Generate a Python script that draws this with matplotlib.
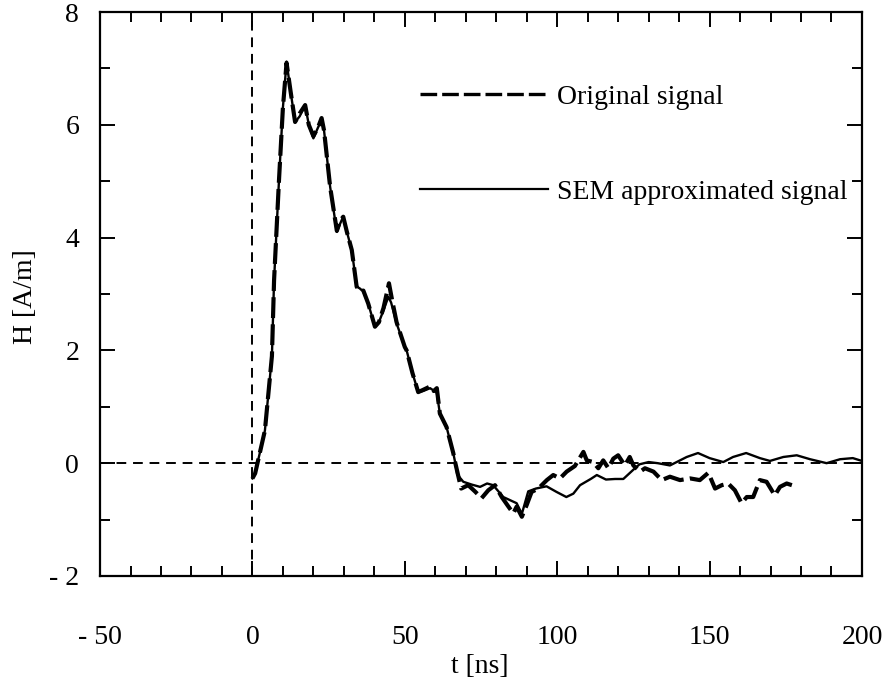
import numpy as np
import matplotlib.pyplot as plt
from matplotlib.ticker import MultipleLocator

plt.rcParams['font.family'] = ['Liberation Serif', 'DejaVu Serif']

# SEM approximated signal, t in ns, H in A/m
t_sem = [0, 0.9, 4.1, 6.4, 7.1, 8.7, 10.0, 11.2, 12.5, 14, 15.5, 17.3, 18.5, 20,
         21.5, 22.7, 23.5, 25.5, 27.7, 28.8, 29.8, 31, 32.6, 34.2, 35.2, 36.4,
         38, 40.2, 41.5, 43, 44.6, 45.5, 47.3, 50, 50.6, 52.5, 54.4, 56, 58.3,
         60.5, 61.5, 63.7, 65.9, 66.5, 67.2, 69.2, 72, 74.7, 77, 79, 82.3, 86.7,
         88.4, 90.5, 93, 96.5, 99.8, 103, 105.3, 107.5, 111, 113, 116, 119,
         121.7, 124.9, 127, 130, 133, 137, 142.5, 146.2, 150, 154.5, 157.7, 162,
         166.5, 169.8, 174.2, 178.6, 183, 188.4, 192.8, 197, 200]
h_sem = [-0.27, -0.18, 0.58, 1.9, 3.24, 5.0, 6.3, 7.12, 6.6, 6.05, 6.15, 6.35,
         6.0, 5.76, 5.95, 6.08, 5.9, 4.9, 4.1, 4.25, 4.37, 4.1, 3.78, 3.13, 3.1,
         3.04, 2.83, 2.42, 2.5, 2.71, 2.95, 2.85, 2.48, 2.06, 2.0, 1.6, 1.26, 1.28,
         1.33, 1.25, 0.88, 0.64, 0.18, 0.02, -0.2, -0.33, -0.38, -0.42, -0.36,
         -0.39, -0.6, -0.71, -0.9, -0.5, -0.45, -0.41, -0.51, -0.6, -0.54, -0.39,
         -0.28, -0.21, -0.29, -0.28, -0.28, -0.12, -0.02, 0.02, 0.0, -0.04, 0.11,
         0.18, 0.09, 0.02, 0.11, 0.18, 0.09, 0.04, 0.11, 0.14, 0.07, 0.0, 0.07,
         0.09, 0.04]

# original measured signal
t_orig = [0, 0.9, 4.1, 6.4, 7.1, 8.7, 10.0, 11.2, 12.5, 14, 15.5, 17.3, 18.5, 20,
          21.5, 22.7, 23.5, 25.5, 27.7, 28.8, 29.8, 31, 32.6, 34.2, 35.2, 36.4,
          38, 40.2, 41.5, 43, 44.8, 45.8, 47.3, 50, 50.6, 52.5, 54.4, 56, 58.3,
          59.5, 60.5, 61.5, 63.7, 65.9, 66.5, 67.6, 68.5, 70.8, 73, 75.2, 77.4,
          79.6, 81.8, 84, 85.6, 86.7, 88.4, 90, 91.6, 93.8, 96.6, 98.7, 100.9,
          103.1, 105.8, 108.6, 109.7, 111.8, 113.5, 115.1, 116.8, 118.4, 120,
          122.2, 123.8, 125, 127.2, 128.8, 131.6, 134.3, 137, 140.3, 143.6, 146.8,
          149.6, 151.8, 154, 156.1, 158.3, 160.5, 162.2, 164.3, 166.5, 168.7,
          171.4, 173.1, 175.3, 177]
h_orig = [-0.27, -0.18, 0.58, 1.9, 3.24, 5.0, 6.3, 7.1, 6.6, 6.05, 6.2, 6.35,
          6.0, 5.8, 5.95, 6.12, 5.9, 4.9, 4.12, 4.3, 4.37, 4.1, 3.78, 3.13, 3.05,
          3.06, 2.83, 2.42, 2.5, 2.75, 3.19, 2.9, 2.5, 2.06, 2.0, 1.6, 1.26, 1.3,
          1.36, 1.28, 1.33, 0.88, 0.64, 0.18, 0.02, -0.24, -0.45, -0.39, -0.5,
          -0.62, -0.48, -0.39, -0.6, -0.77, -0.89, -0.77, -0.95, -0.74, -0.51,
          -0.45, -0.3, -0.21, -0.27, -0.15, -0.05, 0.2, 0.05, 0.02, -0.09, 0.05,
          -0.09, 0.08, 0.14, -0.04, 0.11, -0.04, -0.15, -0.09, -0.15, -0.3, -0.24,
          -0.3, -0.27, -0.3, -0.17, -0.45, -0.39, -0.36, -0.48, -0.71, -0.6, -0.6,
          -0.3, -0.33, -0.57, -0.42, -0.36, -0.39]

x_ticks = [-50, 0, 50, 100, 150, 200]
x_labels = ['- 50', '0', '50', '100', '150', '200']
y_ticks = [-2, 0, 2, 4, 6, 8]
y_labels = ['- 2', '0', '2', '4', '6', '8']

fig = plt.figure(figsize=(8.9, 6.83), dpi=100)
ax = fig.add_axes([0.1124, 0.1567, 0.8561, 0.8257])

# reference axes through the origin
ax.axhline(0, color='black', lw=1.4, ls=(0, (5, 3.5)))
ax.axvline(0, color='black', lw=1.4, ls=(0, (5, 3.5)))

ax.plot(t_orig, h_orig, color='black', lw=3.0, ls=(0, (5, 1.5)),
        label='Original signal')
ax.plot(t_sem, h_sem, color='black', lw=1.7, label='SEM approximated signal')

ax.set_xlim(-50, 200)
ax.set_ylim(-2, 8)
ax.set_xticks(x_ticks)
ax.set_xticklabels(x_labels)
ax.set_yticks(y_ticks)
ax.set_yticklabels(y_labels)
ax.xaxis.set_minor_locator(MultipleLocator(10))
ax.yaxis.set_minor_locator(MultipleLocator(1))
ax.tick_params(which='both', direction='in', top=True, right=True, width=1.4,
               labelsize=20)
ax.tick_params(which='major', length=11)
ax.tick_params(which='minor', length=7)
ax.tick_params(axis='x', pad=35)
ax.tick_params(axis='y', pad=15)
for s in ax.spines.values():
    s.set_linewidth(1.6)

ax.set_xlabel('t [ns]', fontsize=20)
ax.set_ylabel('H [A/m]', fontsize=20)
ax.xaxis.set_label_coords(0.499, -0.139)
ax.yaxis.set_label_coords(-0.082, 0.495)

leg = ax.legend(loc='upper left', bbox_to_anchor=(0.42, 0.872), frameon=False,
                fontsize=20, handlelength=4.6, handletextpad=0.32,
                labelspacing=2.5, borderpad=0, borderaxespad=0)
for line in leg.get_lines():
    line.set_linewidth(2.4 if line.get_linestyle() != '-' else 1.6)

fig.savefig('out.png', dpi=100)
